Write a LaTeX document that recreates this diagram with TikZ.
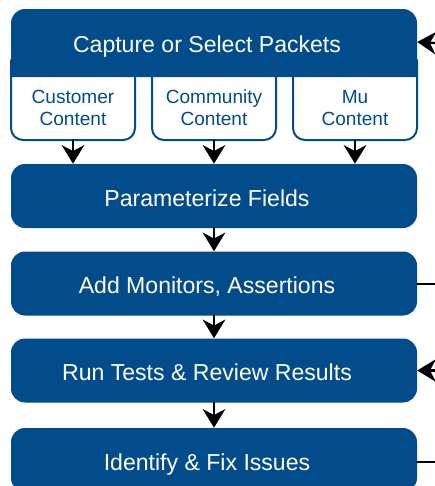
\documentclass[tikz,border=0pt]{standalone}
\usepackage{fontspec}
\setmainfont{Liberation Sans}
\usetikzlibrary{arrows.meta}
\definecolor{flowblue}{RGB}{3,76,140}

\begin{document}
\begin{tikzpicture}[x=0.75pt,y=-0.75pt,>={Stealth[length=14pt,width=17pt,inset=4.5pt]},line cap=round,
  stepbox/.style={fill=flowblue,rounded corners=10.5pt,minimum width=304.5pt,minimum height=48pt,inner sep=0pt,text=white,font=\fontsize{17.3}{20}\selectfont,text height=15.5pt,text depth=0pt,execute at end node={\hspace*{10.5pt}}},
  contentbox/.style={minimum width=93pt,minimum height=48pt,inner sep=0pt,align=center,text=flowblue,font=\fontsize{14.3}{16.5}\selectfont},
  flow/.style={->,line width=1.7pt},
  link/.style={line width=1.5pt}]
\clip (0,0) rectangle (435,486);
% content tabs under the header
\foreach \xl/\xr in {11/135,152/276,293/417}
  \filldraw[fill=white,draw=flowblue,line width=1.5pt,rounded corners=9pt] (\xl,60) -- (\xl,140) -- (\xr,140) -- (\xr,60);
\fill[flowblue,rounded corners=10.5pt] (11,77) -- (11,9) -- (417,9) -- (417,77);
\node[stepbox,fill=none,minimum height=51pt] (capture) at (214,42) {Capture or Select Packets};
\node[contentbox] (cust) at (73,108) {Customer\\Content};
\node[contentbox] (comm) at (214,108) {Community\\Content};
\node[contentbox] (mu) at (355,108) {Mu\\Content};
\node[stepbox] (param) at (214,196) {Parameterize Fields};
\node[stepbox] (monitor) at (214,283.5) {Add Monitors, Assertions};
\node[stepbox] (run) at (214,370.5) {Run Tests \& Review Results};
\node[stepbox] (fix) at (214,460) {Identify \& Fix Issues};
\coordinate (capin) at (435,43);
\coordinate (monout) at (435,283.5);
\coordinate (runin) at (435,370.5);
\coordinate (fixout) at (435,462);
\foreach \n in {cust,comm,mu}
  \draw[flow] (\n.south) -- (\n.south |- param.north);
\draw[flow] (param.south) -- (monitor.north);
\draw[flow] (monitor.south) -- (run.north);
\draw[flow] (run.south) -- (fix.north);
\draw[flow] (capin) -- (capture.east);
\draw[link] (monitor.east) -- (monout);
\draw[flow] (runin) -- (run.east);
\draw[link] (fix.east |- fixout) -- (fixout);
\end{tikzpicture}
\end{document}
